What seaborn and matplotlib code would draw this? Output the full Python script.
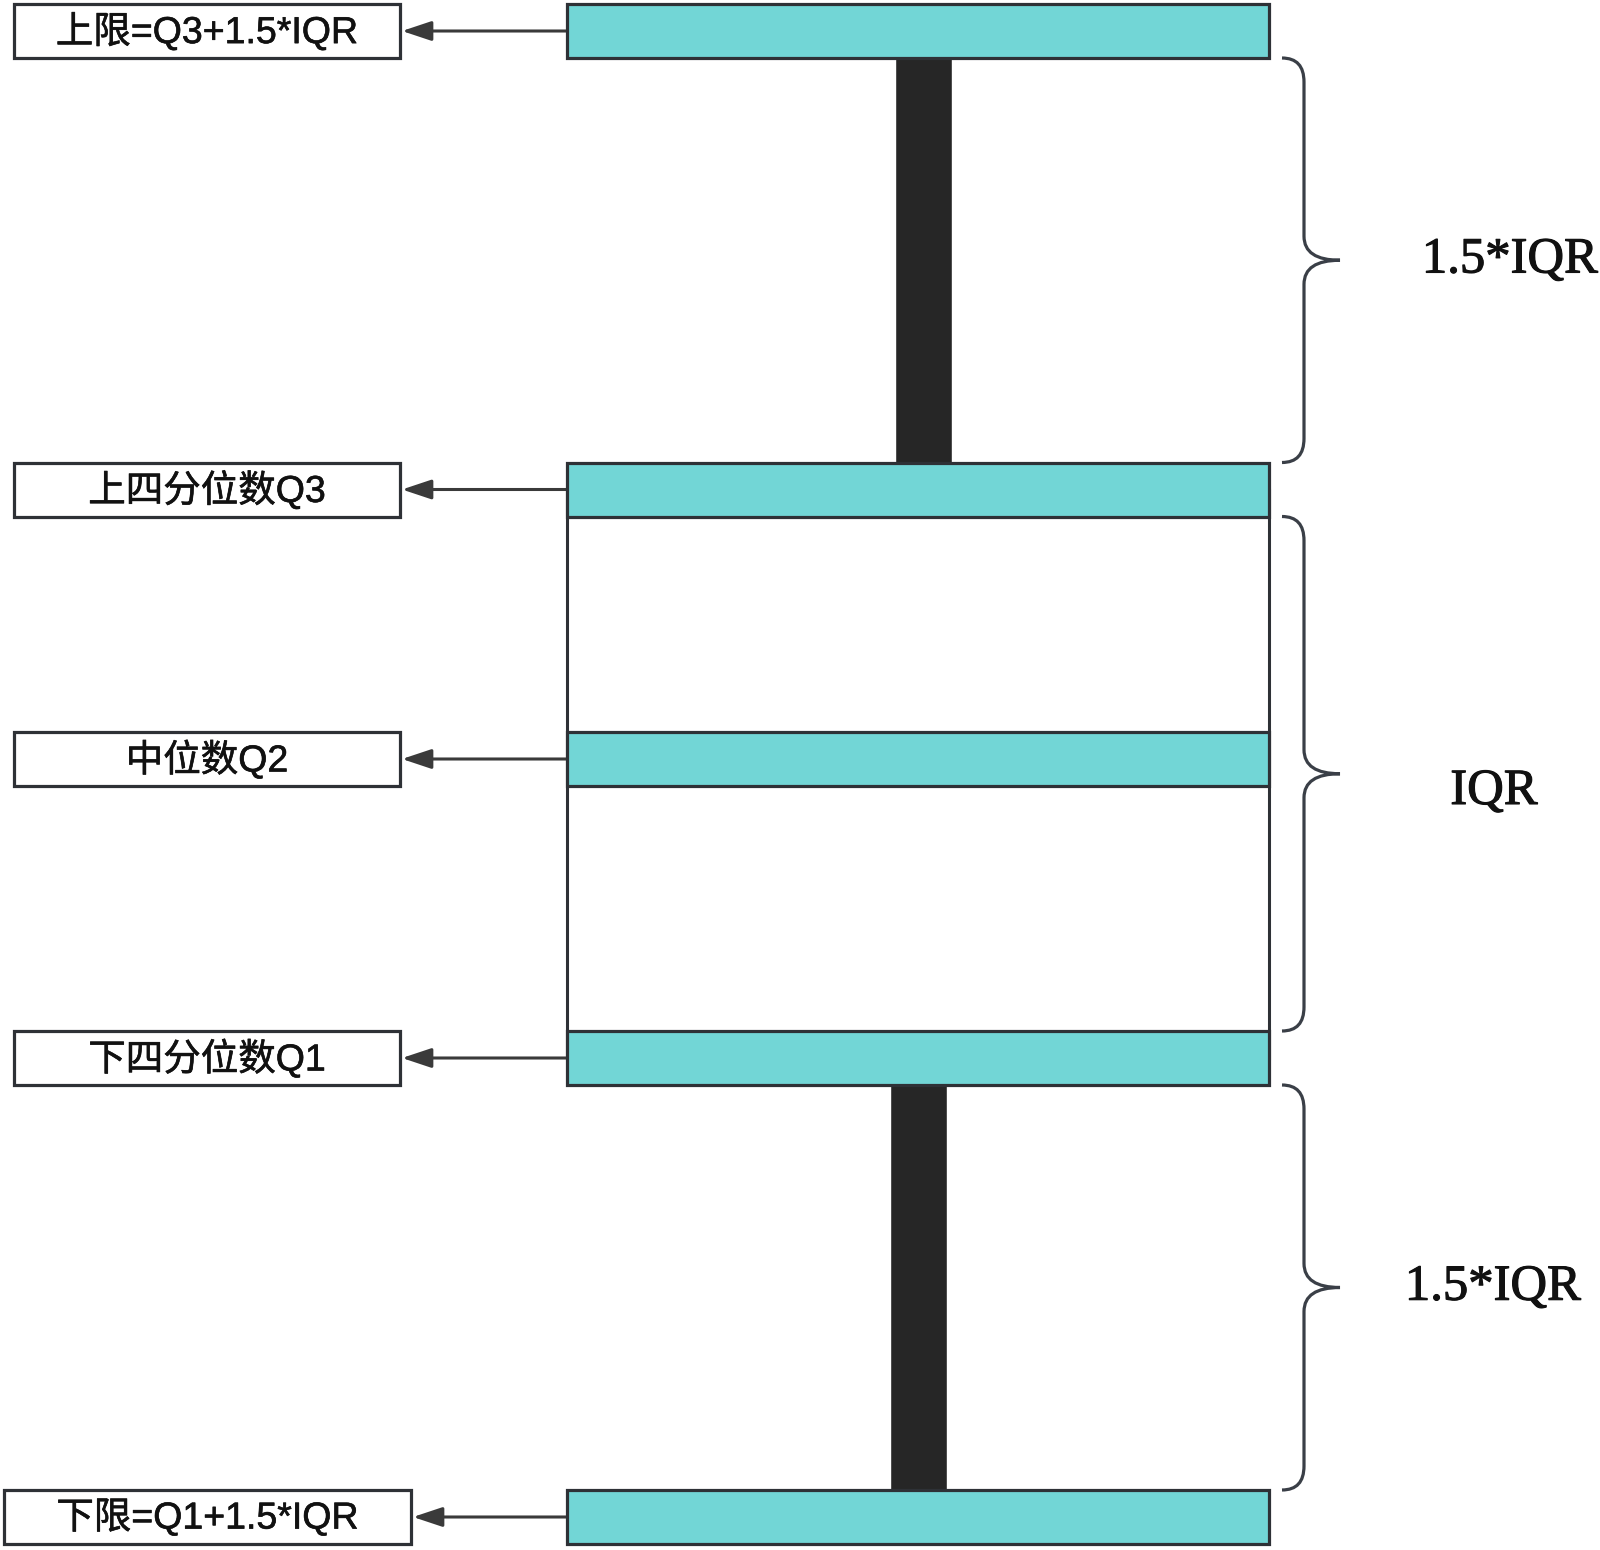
import numpy as np
import seaborn as sns
import matplotlib
matplotlib.use("Agg")
import matplotlib.pyplot as plt
import matplotlib.patheffects as pe
from matplotlib.path import Path
from matplotlib.patches import PathPatch, Rectangle

# levels of the box plot schematic (top to bottom), y in image units
level_labels = ["上限=Q3+1.5*IQR", "上四分位数Q3", "中位数Q2", "下四分位数Q1", "下限=Q1+1.5*IQR"]
level_y = [31, 489.5, 759, 1058, 1517]

# ranges marked with braces on the right
span_labels = ["1.5*IQR", "IQR", "1.5*IQR"]
span_from = [0, 1, 3]
span_to = [1, 3, 4]

sns.set_theme(style="white")
plt.rcParams['font.family'] = ['Liberation Sans', 'Noto Sans CJK SC', 'DejaVu Sans']

teal = "#72d6d6"
dark = "#262626"
edge = "#2e3136"

fig = plt.figure(figsize=(16, 15.5), dpi=100)
ax = fig.add_axes([0, 0, 1, 1])
ax.set_xlim(0, 1600)
ax.set_ylim(1550, 0)
ax.axis("off")

bar_left, bar_right, bar_h = 567, 1269, 54
bar_cx = (bar_left + bar_right) / 2
bar_w = bar_right - bar_left

# white box between Q3 and Q1
ax.add_patch(Rectangle((bar_left, level_y[1]), bar_w, level_y[3] - level_y[1],
                       facecolor="white", edgecolor=edge, lw=2.2, zorder=1))

# whiskers
ax.bar(923.5, level_y[1] - level_y[0], bottom=level_y[0], width=57, color=dark, zorder=2)
ax.bar(918.5, level_y[4] - level_y[3], bottom=level_y[3], width=57, color=dark, zorder=2)

# teal bars at each level
ax.bar([bar_cx] * len(level_y), [bar_h] * len(level_y),
       bottom=[y - bar_h / 2 for y in level_y], width=bar_w,
       color=teal, edgecolor=edge, linewidth=2.3, zorder=3)

thick = [pe.withStroke(linewidth=0.45, foreground="#111111")]

# label boxes with arrows
for i, (lab, y) in enumerate(zip(level_labels, level_y)):
    if i == len(level_y) - 1:
        bx0, bx1 = 4, 411
    else:
        bx0, bx1 = 14, 400
    ax.add_patch(Rectangle((bx0, y - 27), bx1 - bx0, 54, facecolor="white",
                           edgecolor=edge, lw=2.3, zorder=3))
    ax.text((bx0 + bx1) / 2, y + 1, lab, ha="center", va="center", fontsize=27,
            color="#111111", zorder=4, path_effects=thick)
    ax.annotate("", xy=(bx1 + 2, y), xytext=(bar_left, y),
                arrowprops=dict(arrowstyle="-|>,head_length=1.5,head_width=0.5",
                                color="#3a3a3a", lw=2.2, shrinkA=0, shrinkB=0), zorder=2)

# braces
def brace(y0, y1, x0=1282, xm=1304, xt=1340, r=24):
    ym = (y0 + y1) / 2
    verts = [(x0, y0), (xm, y0), (xm, y0 + r),
             (xm, ym - r), (xm, ym), (xt, ym),
             (xm, ym), (xm, ym + r),
             (xm, y1 - r), (xm, y1), (x0, y1)]
    codes = [Path.MOVETO, Path.CURVE3, Path.CURVE3,
             Path.LINETO, Path.CURVE3, Path.CURVE3,
             Path.CURVE3, Path.CURVE3,
             Path.LINETO, Path.CURVE3, Path.CURVE3]
    ax.add_patch(PathPatch(Path(verts, codes), facecolor="none",
                           edgecolor="#3a3f47", lw=2.3, zorder=2))
    return ym

text_x = [1510, 1494, 1493]
text_dy = [0, 18, 0]
for lab, a, b, tx, dy in zip(span_labels, span_from, span_to, text_x, text_dy):
    y0 = level_y[a] + bar_h / 2
    y1 = level_y[b] - bar_h / 2
    ym = brace(y0, y1)
    ax.text(tx, ym + dy, lab, ha="center", va="center", fontsize=36.5,
            family="Liberation Serif", color="#111111",
            path_effects=[pe.withStroke(linewidth=0.8, foreground="#111111")])

fig.savefig("out.png", dpi=100, facecolor="white")
